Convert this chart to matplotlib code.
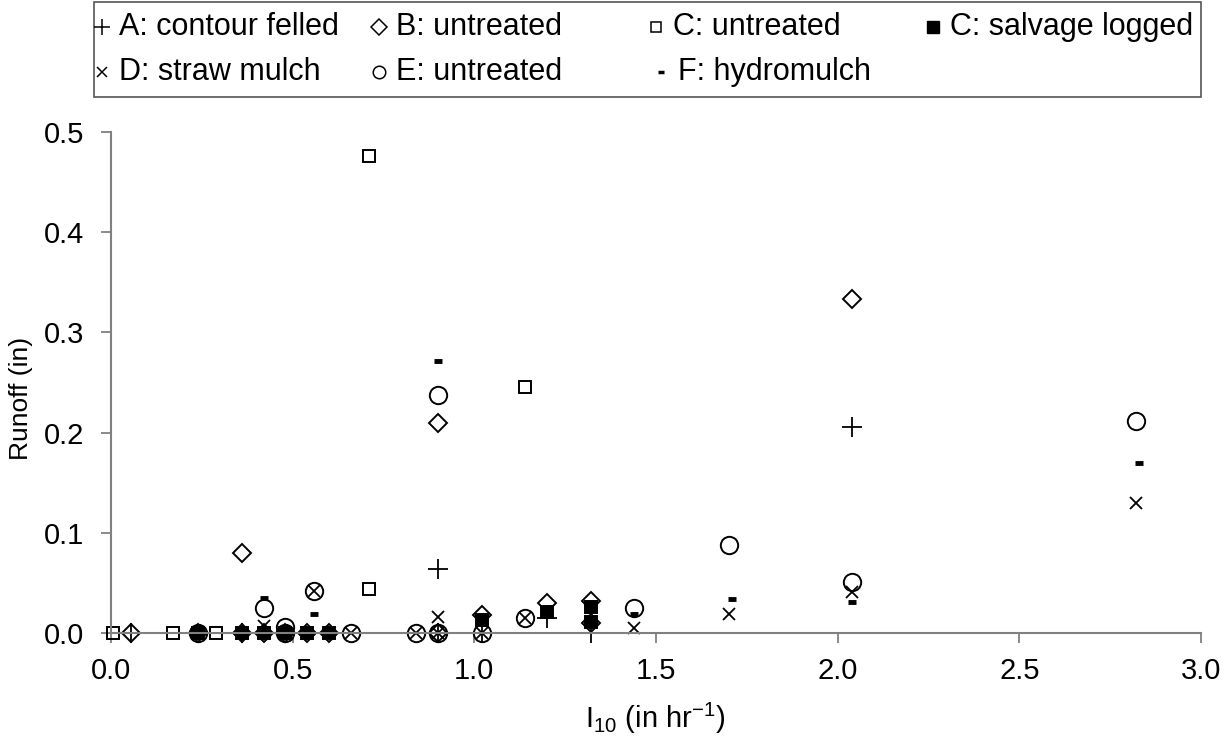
import numpy as np
import matplotlib
matplotlib.use('Agg')
import matplotlib.pyplot as plt
from matplotlib.lines import Line2D
from matplotlib.patches import Rectangle

plt.rcParams['font.family'] = ['Liberation Sans', 'DejaVu Sans']
plt.rcParams['mathtext.fontset'] = 'custom'
plt.rcParams['mathtext.rm'] = 'Liberation Sans'
plt.rcParams['mathtext.it'] = 'Liberation Sans'

# I10 (in/hr) vs runoff (in)
xA = [0.055, 0.36, 0.90, 0.90, 1.02, 1.20, 1.32, 2.04]
yA = [0.0, 0.0, 0.064, 0.0, 0.0, 0.015, 0.0, 0.206]

xB = [0.055, 0.24, 0.36, 0.36, 0.42, 0.48, 0.54, 0.60, 0.90, 0.90, 1.02, 1.20, 1.32, 1.32, 2.04]
yB = [0.0, 0.0, 0.080, 0.0, 0.0, 0.0, 0.0, 0.0, 0.210, 0.0, 0.018, 0.030, 0.032, 0.010, 0.333]

xCu = [0.005, 0.17, 0.29, 0.71, 0.71, 1.14]
yCu = [0.0, 0.0, 0.0, 0.476, 0.044, 0.246]

xCs = [0.24, 0.36, 0.42, 0.48, 0.54, 0.60, 1.02, 1.20, 1.32, 1.32]
yCs = [0.0, 0.0, 0.0, 0.0, 0.0, 0.0, 0.013, 0.021, 0.026, 0.011]

xD = [0.42, 0.48, 0.56, 0.66, 0.84, 0.90, 0.90, 1.02, 1.14, 1.44, 1.70, 2.04, 2.82]
yD = [0.007, 0.0, 0.042, 0.0, 0.0, 0.016, 0.0, 0.0, 0.015, 0.005, 0.019, 0.041, 0.130]

xE = [0.24, 0.42, 0.48, 0.48, 0.56, 0.66, 0.84, 0.90, 0.90, 1.02, 1.14, 1.44, 1.70, 2.04, 2.82]
yE = [0.0, 0.025, 0.006, 0.0, 0.042, 0.0, 0.0, 0.238, 0.0, 0.0, 0.015, 0.025, 0.088, 0.051, 0.212]

xF = [0.42, 0.56, 0.90, 1.44, 1.71, 2.04, 2.83]
yF = [0.035, 0.019, 0.271, 0.019, 0.034, 0.031, 0.170]

labels = ['A: contour felled', 'B: untreated', 'C: untreated', 'C: salvage logged',
          'D: straw mulch', 'E: untreated', 'F: hydromulch']

W, H = 1231, 737
fig = plt.figure(figsize=(W/100, H/100), dpi=100)
ax = fig.add_axes([111/W, 1-633/H, (1201-111)/W, (633-132)/H])

k = 'black'
ax.plot(xE, yE, ls='none', marker='o', ms=12.5, mfc='none', mec=k, mew=1.4, clip_on=False)
ax.plot(xB, yB, ls='none', marker='D', ms=9.5, mfc='none', mec=k, mew=1.4, clip_on=False)
ax.plot(xCu, yCu, ls='none', marker='s', ms=9, mfc='none', mec=k, mew=1.4, clip_on=False)
ax.plot(xCs, yCs, ls='none', marker='s', ms=9, mfc=k, mec=k, mew=1.4, clip_on=False)
ax.plot(xA, yA, ls='none', marker='+', ms=14, mec=k, mew=1.3, clip_on=False)
ax.plot(xD, yD, ls='none', marker='x', ms=9, mec=k, mew=1.3, clip_on=False)
ax.plot(xF, yF, ls='none', marker='_', ms=6, mec=k, mew=3.5, clip_on=False)

ax.set_xlim(0, 3.0)
ax.set_ylim(0, 0.5)
ax.set_xticks(np.arange(0, 3.01, 0.5))
ax.set_yticks(np.arange(0, 0.51, 0.1))
ax.xaxis.set_major_formatter(matplotlib.ticker.FormatStrFormatter('%.1f'))
ax.yaxis.set_major_formatter(matplotlib.ticker.FormatStrFormatter('%.1f'))
for s in ['top', 'right']:
    ax.spines[s].set_visible(False)
for s in ['left', 'bottom']:
    ax.spines[s].set_color('#808080')
    ax.spines[s].set_linewidth(1.5)
ax.tick_params(direction='out', length=7, width=1.3, color='#808080', labelsize=21)
ax.tick_params(axis='x', pad=10)
ax.tick_params(axis='y', pad=12)

ax.set_xlabel(r'I$_{10}$ (in hr$^{-1}$)', fontsize=21)
ax.xaxis.set_label_coords((655-111)/1090, -(718-633)/501)
ax.set_ylabel('Runoff (in)', fontsize=19)
ax.yaxis.set_label_coords(-(111-21)/1090, (633-398)/501)
ax.xaxis.label.set_va('center')
ax.yaxis.label.set_va('center')

# legend box, Excel style: equal width columns
fig.add_artist(Rectangle((94/W, 1-97/H), (1201-94)/W, 95/H, transform=fig.transFigure,
                         fill=False, ec='#555555', lw=1.2))
mk = [dict(marker='+', ms=12, mew=1.1),
      dict(marker='D', ms=8, mfc='none', mew=1.1),
      dict(marker='s', ms=7, mfc='none', mew=1.1),
      dict(marker='s', ms=8, mfc=k),
      dict(marker='x', ms=6.5, mew=1.1),
      dict(marker='o', ms=9, mfc='none', mew=1.1),
      dict(marker='_', ms=5, mew=2.5)]
for i, (lab, m) in enumerate(zip(labels, mk)):
    row, col = divmod(i, 4)
    xm = 102 + col * 277
    ym = 27 + row * 45
    if i == 6:
        xm += 5
    fig.add_artist(Line2D([xm/W], [1-ym/H], ls='none', mec=k, color=k,
                          transform=fig.transFigure, **m))
    fig.text((xm + 17)/W, 1-ym/H, lab, fontsize=22, va='center', ha='left')

plt.savefig('out.png', dpi=100)
